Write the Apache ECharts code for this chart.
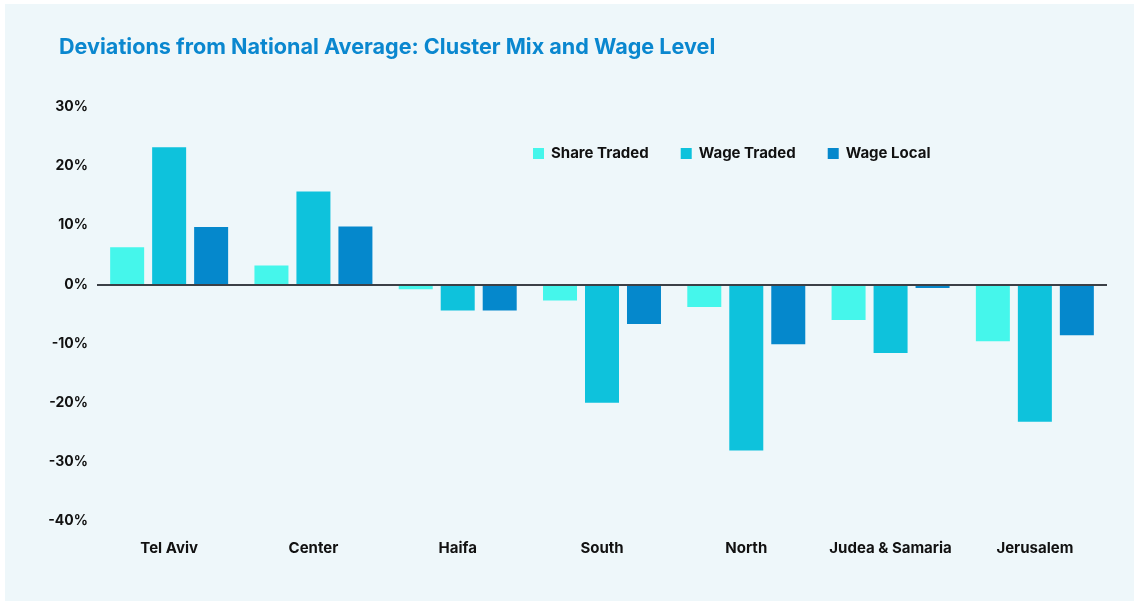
<!DOCTYPE html>
<html>
<head>
<meta charset="utf-8">
<title>Deviations from National Average</title>
<script src="https://cdn.jsdelivr.net/npm/echarts@6/dist/echarts.min.js"></script>
<style>
  html, body { margin: 0; padding: 0; background: #ffffff; }
  #panel { position: absolute; left: 5px; top: 4px; width: 1129px; height: 597px; background: #eef7fa; }
  #chart { position: absolute; left: 0; top: 0; width: 1134px; height: 605px; }
</style>
</head>
<body>
<div id="panel"></div>
<div id="chart"></div>
<script>
  // regions along the x axis
  const regions = ['Tel Aviv', 'Center', 'Haifa', 'South', 'North', 'Judea & Samaria', 'Jerusalem']
  // deviations in percent
  const shareTraded = [6.3, 3.2, -0.8, -2.7, -3.8, -6.0, -9.6]
  const wageTraded = [23.2, 15.7, -4.4, -20.0, -28.1, -11.6, -23.2]
  const wageLocal = [9.7, 9.8, -4.4, -6.7, -10.1, -0.6, -8.6]
  const seriesNames = ['Share Traded', 'Wage Traded', 'Wage Local']
  const colors = ['#45f6eb', '#0ec2dc', '#0588cc']

  const chart = echarts.init(document.getElementById('chart'), null, { renderer: 'canvas' })
  const font = 'Inter, Lato, sans-serif'

  const bar = (name, data, i) => ({
    name: name,
    type: 'bar',
    data: data,
    barWidth: 34,
    barGap: '23.5%',
    itemStyle: { color: colors[i] },
    animation: false
  })

  const series = [
    bar(seriesNames[0], shareTraded, 0),
    bar(seriesNames[1], wageTraded, 1),
    bar(seriesNames[2], wageLocal, 2)
  ]
  // zero line
  series[0].markLine = {
    silent: true,
    symbol: 'none',
    label: { show: false },
    lineStyle: { color: '#3b4046', width: 2, type: 'solid' },
    data: [{ yAxis: 0 }]
  }

  chart.setOption({
    backgroundColor: 'transparent',
    textStyle: { fontFamily: font },
    title: {
      text: 'Deviations from National Average: Cluster Mix and Wage Level',
      left: 59,
      top: 36,
      padding: 0,
      textStyle: { color: '#0a87cf', fontSize: 21.6, fontWeight: 'bold', fontFamily: font }
    },
    legend: {
      data: seriesNames,
      left: 533,
      top: 146,
      padding: 0,
      itemWidth: 11,
      itemHeight: 11,
      itemGap: 32,
      icon: 'rect',
      textStyle: { color: '#111', fontSize: 15, fontWeight: 'bold', fontFamily: font, padding: [0, 0, 0, 2] }
    },
    grid: { left: 97, right: 27, top: 107, bottom: 84, containLabel: false },
    xAxis: {
      type: 'category',
      data: regions,
      axisLine: { show: false, onZero: false },
      axisTick: { show: false },
      axisLabel: { interval: 0, color: '#111', fontSize: 15, fontWeight: 'bold', margin: 20, fontFamily: font }
    },
    yAxis: {
      type: 'value',
      min: -40,
      max: 30,
      interval: 10,
      axisLine: { show: false },
      axisTick: { show: false },
      splitLine: { show: false },
      axisLabel: { color: '#111', fontSize: 14, fontWeight: 'bold', margin: 9, formatter: '{value}%', fontFamily: font }
    },
    series: series
  })
</script>
</body>
</html>
